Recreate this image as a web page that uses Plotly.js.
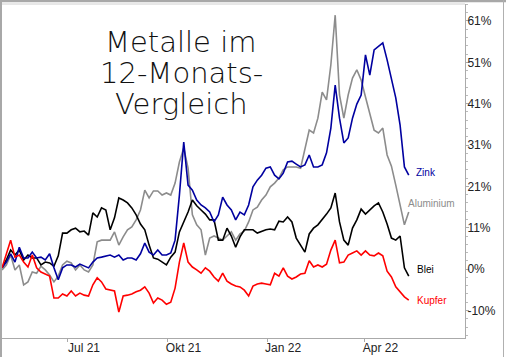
<!DOCTYPE html>
<html>
<head>
<meta charset="utf-8">
<script src="https://cdn.plot.ly/plotly-3.0.1.min.js"></script>
<style>
html,body{margin:0;padding:0;background:#fff;}
#chart{width:506px;height:357px;}
</style>
</head>
<body>
<div id="chart"></div>
<script>
const dates = [
"2021-05-01","2021-05-05","2021-05-09","2021-05-13","2021-05-17","2021-05-21","2021-05-25","2021-05-29",
"2021-06-02","2021-06-06","2021-06-10","2021-06-14","2021-06-18","2021-06-22","2021-06-26","2021-06-30",
"2021-07-04","2021-07-08","2021-07-12","2021-07-16","2021-07-20","2021-07-24","2021-07-28",
"2021-08-01","2021-08-05","2021-08-09","2021-08-13","2021-08-17","2021-08-21","2021-08-25","2021-08-29",
"2021-09-02","2021-09-06","2021-09-10","2021-09-14","2021-09-18","2021-09-22","2021-09-26","2021-09-30",
"2021-10-04","2021-10-08","2021-10-12","2021-10-16","2021-10-20","2021-10-24","2021-10-28",
"2021-11-01","2021-11-05","2021-11-09","2021-11-13","2021-11-17","2021-11-21","2021-11-25","2021-11-29",
"2021-12-03","2021-12-07","2021-12-11","2021-12-15","2021-12-19","2021-12-23","2021-12-27","2021-12-31",
"2022-01-04","2022-01-08","2022-01-12","2022-01-16","2022-01-20","2022-01-24","2022-01-28",
"2022-02-01","2022-02-05","2022-02-09","2022-02-13","2022-02-17","2022-02-21","2022-02-25",
"2022-03-01","2022-03-05","2022-03-09","2022-03-13","2022-03-17","2022-03-21","2022-03-25","2022-03-29",
"2022-04-02","2022-04-06","2022-04-10","2022-04-14","2022-04-18","2022-04-22","2022-04-26","2022-04-30",
"2022-05-04","2022-05-08","2022-05-12"];

const zink = [0.3,1.7,3.7,1.7,5.3,2.7,2.7,4.1,2.7,2.9,2.2,3.7,0.3,-2.6,0.3,1.0,1.0,0.5,1.2,0.7,0.3,1.7,2.7,
2.9,3.2,3.4,2.9,3.4,2.2,2.7,2.7,2.2,3.7,6.3,4.1,3.4,4.6,3.4,3.4,3.9,7.0,17.9,30.7,20.3,19.1,16.7,15.5,14.8,
13.8,11.4,13.1,17.4,15.5,14.3,11.9,13.8,13.1,15.5,19.9,21.5,22.7,24.4,24.7,22.7,21.8,23.2,25.9,26.1,25.4,
24.7,25.2,27.6,24.7,24.7,25.2,28.1,34.1,44.5,36.5,30.5,31.7,36.5,39.9,42.1,51.8,46.9,53.0,53.9,54.7,50.6,
46.2,41.4,34.8,24.7,22.7];

const aluminium = [-0.2,1.0,3.4,-0.2,1.0,-3.8,-3.1,-0.7,-1.0,0.7,-0.2,-1.4,-3.1,-1.7,1.0,1.9,1.5,-0.2,1.0,
-0.2,-0.7,1.0,6.6,7.0,7.0,7.0,9.0,5.8,7.8,9.5,10.2,11.9,14.3,19.1,17.2,18.9,18.9,17.9,18.4,17.9,20.8,25.9,
29.3,24.4,13.1,10.7,9.5,3.4,7.5,8.0,7.5,7.0,8.0,9.0,7.0,8.5,9.2,11.4,14.3,15.0,16.7,17.9,19.9,20.8,22.0,
24.0,24.7,24.7,24.7,24.4,28.8,33.6,32.9,36.5,42.8,40.9,49.4,61.4,42.1,36.5,42.1,46.2,48.2,45.7,41.6,37.7,
33.6,32.9,34.1,27.6,24.9,20.3,15.3,10.7,13.8];

const blei = [0.3,2.2,4.6,3.4,4.6,2.2,3.4,2.7,2.7,1.0,1.7,1.5,0.7,3.2,8.7,8.7,9.5,9.9,9.0,9.2,8.2,13.6,12.6,
14.8,14.3,9.5,12.4,17.2,16.7,16.0,14.8,13.1,10.9,9.5,5.8,2.7,2.4,1.7,1.0,2.9,4.1,9.0,11.4,13.8,16.7,15.3,
14.3,13.3,11.9,11.9,7.0,7.0,9.9,8.0,5.3,7.8,9.5,9.5,9.5,8.7,9.2,9.5,9.7,9.5,11.6,11.4,12.6,11.4,7.5,5.8,
4.1,8.5,9.9,10.7,11.9,13.3,14.8,18.4,11.4,7.0,5.8,9.9,11.9,14.5,13.3,14.3,15.3,16.0,13.8,10.9,7.5,7.0,8.0,
0.3,-1.7];

const kupfer = [0.3,3.4,7.0,2.9,3.4,1.7,0.5,3.4,0.3,-0.7,-1.2,-1.7,-7.0,-7.0,-6.0,-6.5,-5.3,-6.5,-5.8,-6.3,
-6.5,-3.8,-2.1,-3.1,-4.8,-5.1,-5.3,-10.4,-6.5,-6.3,-6.0,-5.5,-5.1,-4.3,-5.8,-8.2,-7.0,-7.5,-8.5,-8.0,-4.6,
1.7,6.3,1.7,0.5,-0.2,-1.0,0.3,-0.5,-1.9,-2.9,-1.0,-2.9,-3.6,-4.1,-4.3,-5.1,-6.5,-4.1,-3.6,-3.4,-3.6,-3.8,
-1.0,-1.7,0.3,-1.7,-2.4,-1.9,-1.2,-1.0,2.0,0.5,1.0,0.5,1.2,4.6,7.0,1.5,1.7,3.4,3.9,4.4,3.4,4.4,3.4,3.2,3.9,
3.2,-0.5,-1.9,-4.3,-5.5,-6.7,-7.5];

const seriesNames = ["Aluminium","Blei","Zink","Kupfer"];
const seriesData = [aluminium, blei, zink, kupfer];
const seriesColors = ["#8c8c8c","#000000","#0000a0","#ff0000"];
const labelColors = ["#8c8c8c","#000000","#0000a0","#ff0000"];

const yTickVals = [-10,0,10,20,30,40,50,60];
const yTickText = ["-10%","0%","11%","21%","31%","41%","51%","61%"];
const xTickVals = ["2021-07-01","2021-10-01","2022-01-01","2022-04-01"];
const xTickText = ["Jul 21","Okt 21","Jan 22","Apr 22"];
const titleLines = ["Metalle im","12-Monats-","Vergleich"];

const traces = seriesData.map((d,i)=>({
  x: dates, y: d, type:"scatter", mode:"lines",
  name: seriesNames[i],
  line:{color: seriesColors[i], width:1.6},
  hoverinfo:"skip"
}));

const L = 2, R = 465, T = 4, B = 338;
function px(x){ return (x - L)/(R - L); }
function py(y){ return (B - y)/(B - T); }

// series end labels, placed in pixel terms
const labelPx = [[406,203],[415,269],[414,172],[415,300]];
const annotations = seriesNames.map((n,i)=>({
  x: px(labelPx[i][0]), y: py(labelPx[i][1]), xref:"paper", yref:"paper",
  text: n, showarrow:false, xanchor:"left", yanchor:"middle",
  font:{family:"Liberation Sans, Arial, sans-serif", size:10, color: labelColors[i]}
}));
const titleY = [42, 73, 104];
titleLines.forEach((t,i)=>annotations.push({
  x: px(181), y: py(titleY[i]), xref:"paper", yref:"paper", xanchor:"center", yanchor:"middle",
  text: t, showarrow:false,
  font:{family:"DejaVu Sans, sans-serif", size:29, color:"#111", weight:200}
}));

const layout = {
  width:506, height:357,
  margin:{l:2, r:41, t:4, b:19, pad:0},
  paper_bgcolor:"#fff", plot_bgcolor:"#fff",
  showlegend:false,
  xaxis:{
    type:"date",
    range:["2021-05-01","2022-07-03"],
    tickmode:"array", tickvals:xTickVals, ticktext:xTickText,
    ticks:"outside", ticklen:3, tickcolor:"#aaa",
    showline:true, linecolor:"#aaa", linewidth:1,
    showgrid:false, zeroline:false,
    ticklabelshift:16, ticklabelstandoff:-4,
    tickfont:{family:"Liberation Sans, Arial, sans-serif", size:12, color:"#222"}
  },
  yaxis:{
    side:"right",
    range:[-16.66, 64.1],
    tickmode:"array", tickvals:yTickVals, ticktext:yTickText,
    ticks:"outside", ticklen:3, tickcolor:"#aaa",
    showline:true, linecolor:"#aaa", linewidth:1,
    showgrid:false, zeroline:false,
    ticklabelstandoff:-4,
    minor:{tickmode:"linear", tick0:0, dtick:2, ticks:"outside", ticklen:2, tickcolor:"#bbb"},
    tickfont:{family:"Liberation Sans, Arial, sans-serif", size:12, color:"#222"}
  },
  annotations: annotations,
  shapes:[
    {type:"line", xref:"paper", yref:"paper", x0:0, x1:1, y0:1, y1:1, line:{color:"#d0d0d0", width:1}},
    {type:"line", xref:"paper", yref:"paper", x0:px(0), x1:px(506), y0:py(1), y1:py(1), line:{color:"#a8a8a8", width:2.5}},
    {type:"line", xref:"paper", yref:"paper", x0:px(1), x1:px(1), y0:py(0), y1:py(357), line:{color:"#a8a8a8", width:2}},
    {type:"line", xref:"paper", yref:"paper", x0:px(503.5), x1:px(503.5), y0:py(0), y1:py(357), line:{color:"#b0b0b0", width:1}}
  ]
};

Plotly.newPlot("chart", traces, layout, {staticPlot:true, displayModeBar:false});
</script>
</body>
</html>
